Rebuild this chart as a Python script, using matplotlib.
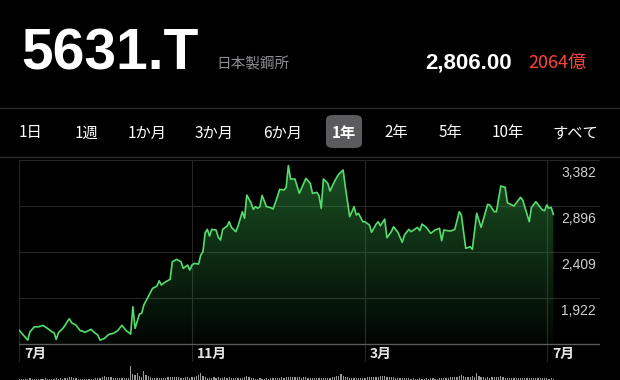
import numpy as np
import matplotlib
matplotlib.use("Agg")
import matplotlib.pyplot as plt
from matplotlib.patches import FancyBboxPatch

# --- data (trading-session index, close price in yen) ---
sessions = [0, 2, 4, 5, 7, 9, 11, 13, 15, 16, 17, 18, 20, 21, 22, 23, 24, 26, 28, 29,
            30, 33, 34, 36, 37, 39, 41, 43, 45, 47, 49, 51, 52, 53, 55, 56, 57, 59, 61, 63,
            64, 65, 67, 69, 70, 72, 74, 75, 77, 78, 79, 80, 82, 83, 84, 85, 86, 87, 88, 90,
            91, 92, 93, 95, 96, 97, 99, 100, 102, 103, 104, 106, 107, 108, 109, 110, 111, 113, 115, 116,
            118, 119, 121, 122, 123, 124, 126, 128, 130, 131, 133, 134, 136, 137, 138, 139, 141, 142, 144, 145,
            146, 148, 149, 151, 153, 154, 155, 157, 158, 160, 161, 163, 164, 165, 167, 168, 170, 171, 173, 175,
            176, 178, 179, 182, 183, 184, 186, 188, 190, 192, 193, 194, 197, 199, 201, 202, 204, 206, 207, 209,
            211, 214, 215, 217, 218, 220, 222, 223, 226, 229, 230, 233, 234, 236, 239, 240, 241, 242, 243, 244]
prices = [1582, 1529, 1476, 1564, 1617, 1617, 1632, 1600, 1564, 1554, 1484, 1554, 1600, 1632, 1670, 1702, 1660, 1635, 1575, 1572,
          1558, 1590, 1564, 1529, 1476, 1494, 1537, 1547, 1575, 1632, 1575, 1540, 1829, 1600, 1752, 1759, 1847, 1935, 2024, 2048,
          2104, 2059, 2094, 2119, 2305, 2331, 2305, 2235, 2270, 2217, 2270, 2288, 2281, 2376, 2411, 2612, 2648, 2577, 2648, 2641,
          2564, 2535, 2648, 2683, 2729, 2669, 2623, 2683, 2835, 2765, 3011, 2924, 2860, 2888, 2871, 2888, 3008, 2888, 2877, 2863,
          2993, 3072, 3064, 3093, 3322, 3181, 3181, 3029, 3135, 3188, 3135, 3029, 3040, 3004, 2871, 3181, 3135, 3054, 3152, 3195,
          3231, 3276, 3099, 2782, 2888, 2800, 2818, 2729, 2729, 2694, 2617, 2701, 2729, 2686, 2757, 2559, 2623, 2676, 2617, 2511,
          2588, 2648, 2623, 2669, 2634, 2704, 2669, 2606, 2641, 2659, 2528, 2641, 2630, 2648, 2835, 2800, 2447, 2464, 2437, 2818,
          2669, 2913, 2906, 2835, 2835, 3107, 3093, 2930, 2895, 2987, 2958, 2729, 2881, 2941, 2853, 2845, 2906, 2871, 2881, 2806]

# daily volume (million shares), one per session
volume = [1.4, 1.2, 1.5, 1.3, 1.2, 1.6, 1.4, 1.3, 1.2, 1.5, 1.4, 1.3, 1.6, 1.5, 1.4, 1.3, 1.5, 1.6, 1.4, 1.7,
          1.5, 1.8, 2.2, 2.8, 3.0, 2.2, 1.6, 1.4, 1.3, 1.2, 1.4, 1.3, 1.2, 1.5, 1.4, 1.6, 1.8, 2.4, 3.2, 3.6,
          3.4, 3.0, 2.6, 2.4, 2.2, 2.0, 1.9, 2.1, 2.0, 2.3, 2.5, 14.0, 6.5, 5.0, 6.8, 4.2, 3.5, 9.0, 5.0, 4.0,
          3.2, 2.4, 2.0, 1.8, 1.7, 2.2, 2.0, 2.3, 2.6, 2.8, 3.0, 3.5, 2.8, 2.6, 2.5, 2.4, 2.6, 2.8, 2.5, 2.7,
          3.0, 4.2, 5.5, 7.5, 4.5, 3.2, 2.5, 2.4, 2.3, 2.6, 2.5, 2.8, 2.4, 2.3, 2.6, 2.5, 3.0, 2.2, 2.0, 2.3,
          2.4, 2.0, 2.5, 3.0, 4.0, 2.6, 2.0, 1.8, 1.5, 1.4, 1.6, 1.5, 1.4, 1.6, 1.5, 1.8, 1.7, 1.6, 1.9, 2.2,
          2.6, 2.4, 3.0, 2.8, 3.2, 2.6, 3.0, 3.4, 2.8, 2.5, 3.0, 3.2, 2.4, 2.0, 1.8, 2.0, 1.7, 1.6, 1.9, 2.2,
          2.0, 2.4, 2.2, 2.6, 3.0, 3.8, 4.5, 6.5, 4.0, 3.0, 2.6, 2.4, 2.0, 2.2, 2.0, 2.3, 2.5, 2.2, 2.4, 2.6,
          2.8, 3.0, 3.2, 3.4, 3.0, 3.6, 4.0, 4.5, 3.4, 3.0, 2.8, 2.6, 2.4, 2.2, 2.0, 1.8, 2.0, 1.7, 1.6, 1.5,
          1.6, 1.5, 1.4, 1.6, 1.5, 1.4, 1.6, 1.5, 1.7, 1.6, 1.5, 1.4, 1.6, 1.8, 2.0, 2.2, 2.4, 2.6, 3.0, 3.2,
          3.5, 4.2, 5.2, 4.0, 3.4, 3.0, 2.8, 4.5, 3.5, 7.0, 3.6, 2.8, 2.6, 2.4, 2.7, 2.5, 2.6, 2.8, 3.0, 3.4,
          4.0, 3.0, 2.5, 2.2, 2.0, 2.4, 2.2, 2.0, 1.8, 2.0, 1.8, 1.7, 1.9, 1.8, 1.6, 1.8, 1.7, 1.6, 1.8, 1.7,
          1.6, 1.8, 1.5, 1.6, 1.4]

month_pos = [0, 79, 158, 241]
month_labels = ["7月", "11月", "3月", "7月"]
grid_prices = [3382, 2896, 2409, 1922]
grid_labels = ["3,382", "2,896", "2,409", "1,922"]
base_price = 1435

ranges = ["1日", "1週", "1か月", "3か月", "6か月", "1年", "2年", "5年", "10年", "すべて"]
range_x = [31, 87, 147, 214, 283, 344, 396, 450, 508, 575]
selected = "1年"

W, H = 620, 380
JP = ["Noto Sans CJK JP", "DejaVu Sans"]
LAT = ["Liberation Sans", "DejaVu Sans"]

fig = plt.figure(figsize=(W / 100, H / 100), dpi=100, facecolor="black")

def fx(px):
    return px / W

def fy(py):
    return 1 - py / H

# header
fig.text(fx(21), fy(70), "5631.T", fontsize=41, weight="bold", color="white",
         family=LAT, va="baseline")
fig.text(fx(216), fy(69), "日本製鋼所", fontsize=10.5, color="#8e8e93",
         family=JP, va="baseline")
fig.text(fx(512), fy(68), "2,806.00", fontsize=16, weight="bold", color="white",
         family=LAT, va="baseline", ha="right")
fig.text(fx(528), fy(68), "2064億", fontsize=13, color="#ff453a",
         family=JP, va="baseline")

# separators
fig.add_artist(plt.Line2D([0, 1], [fy(108), fy(108)], color="#2a2a2a", lw=1))
fig.add_artist(plt.Line2D([0, 1], [fy(157), fy(157)], color="#2a2a2a", lw=1))

# range buttons
box = FancyBboxPatch((fx(326), fy(148)), fx(36), (33) / H,
                     boxstyle="round,pad=0,rounding_size=0.012",
                     transform=fig.transFigure, facecolor="#5b5b5e", edgecolor="none")
fig.add_artist(box)
for lab, x in zip(ranges, range_x):
    fig.text(fx(x), fy(133), lab, fontsize=11, color="white", family=JP,
             ha="center", va="center", weight="bold" if lab == selected else "normal")

# price chart
ax = fig.add_axes([fx(19), fy(362), fx(581), 202 / H])
ax.set_facecolor("black")
xmax = (600 - 19) / 2.19
ax.set_xlim(0, xmax)
ax.set_ylim(base_price - 18 * 10.587, 3382)
for s in ax.spines.values():
    s.set_visible(False)
ax.set_xticks([])
ax.set_yticks([])

for p in grid_prices:
    ax.axhline(p, color="#262626", lw=0.8, zorder=0)
for m in month_pos:
    ax.axvline(m, color="#262626", lw=0.8, zorder=0)
ax.axhline(base_price, color="#5a5a5a", lw=1.0, zorder=1)

poly = ax.fill_between(sessions, prices, base_price, color="none", lw=0)
grad = np.zeros((256, 1, 4))
grad[:, 0, 0] = 0.25
grad[:, 0, 1] = 0.78
grad[:, 0, 2] = 0.33
grad[:, 0, 3] = np.linspace(0.03, 0.42, 256)
im = ax.imshow(grad, extent=[0, xmax, base_price, 3382], origin="lower",
               aspect="auto", zorder=1)
im.set_clip_path(poly.get_paths()[0], transform=ax.transData)
ax.plot(sessions, prices, color="#55dd6e", lw=1.2, zorder=3, solid_joinstyle="round")

for p, lab in zip(grid_prices, grid_labels):
    ax.annotate(lab, xy=(1, p), xycoords=("axes fraction", "data"),
                xytext=(-4, -13), textcoords="offset pixels", ha="right", va="center",
                fontsize=10, color="#d0d0d0", family=LAT)
for m, lab in zip(month_pos, month_labels):
    ax.annotate(lab, xy=(m, base_price), xycoords="data",
                xytext=(5, -10), textcoords="offset pixels", ha="left", va="center",
                fontsize=10, color="#e6e6e6", family=JP, weight="bold")

# volume
vax = fig.add_axes([fx(19), 0, fx(581), 14.3 / H])
vax.set_facecolor("black")
vax.bar(range(len(volume)), volume, width=0.55, color="#9a9a9a", lw=0)
vax.set_xlim(0, xmax)
vax.set_ylim(0, 14.3)
vax.axis("off")

fig.savefig("out.png", dpi=100, facecolor="black")
